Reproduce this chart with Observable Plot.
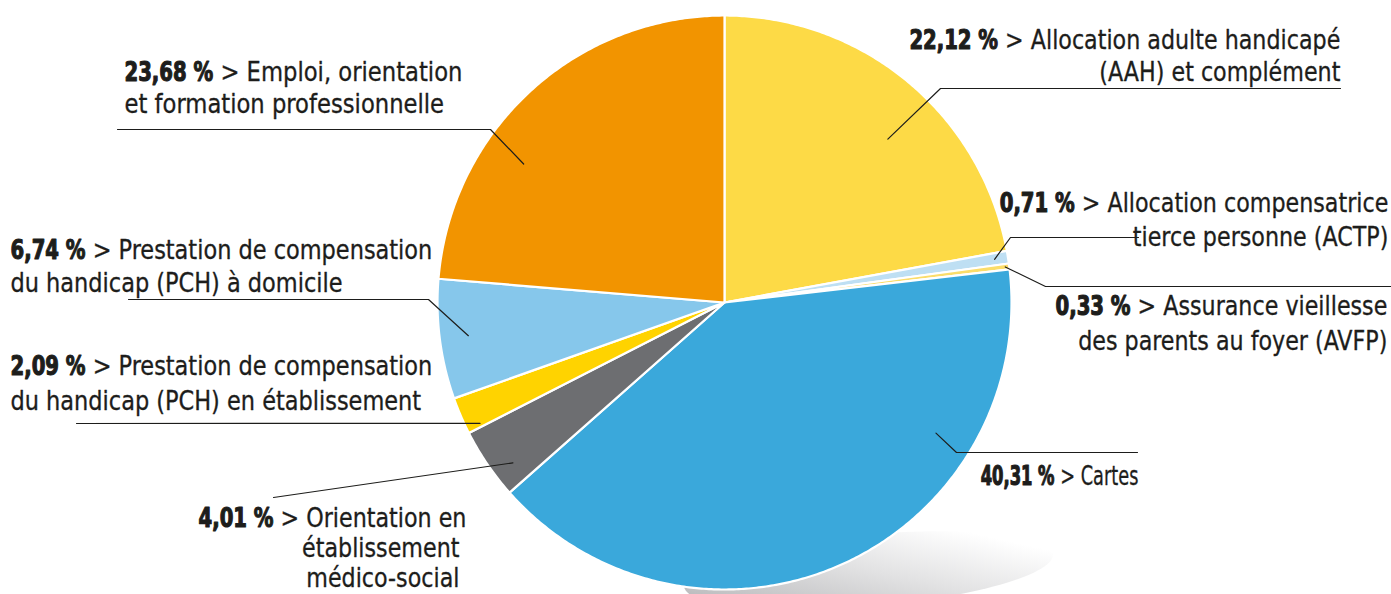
<!DOCTYPE html>
<html><head><meta charset="utf-8">
<script src="https://cdn.jsdelivr.net/npm/d3@7"></script>
<script src="https://cdn.jsdelivr.net/npm/@observablehq/plot@0.6"></script>
<style>
html,body{margin:0;padding:0;background:#fff;}
#chart svg{display:block;}
</style>
</head><body><div id="chart"></div>
<script>
// ---------- DATA ----------
const categories = [
  "Allocation adulte handicapé (AAH) et complément",
  "Allocation compensatrice tierce personne (ACTP)",
  "Assurance vieillesse des parents au foyer (AVFP)",
  "Cartes",
  "Orientation en établissement médico-social",
  "Prestation de compensation du handicap (PCH) en établissement",
  "Prestation de compensation du handicap (PCH) à domicile",
  "Emploi, orientation et formation professionnelle"
];
const shares = [22.12, 0.71, 0.33, 40.31, 4.01, 2.09, 6.74, 23.68];
const shareLabels = ["22,12 %", "0,71 %", "0,33 %", "40,31 %", "4,01 %", "2,09 %", "6,74 %", "23,68 %"];
const labelLines = [
  ["> Allocation adulte handicapé", "(AAH) et complément"],
  ["> Allocation compensatrice", "tierce personne (ACTP)"],
  ["> Assurance vieillesse", "des parents au foyer (AVFP)"],
  ["> Cartes"],
  ["> Orientation en", "établissement", "médico-social"],
  ["> Prestation de compensation", "du handicap (PCH) en établissement"],
  ["> Prestation de compensation", "du handicap (PCH) à domicile"],
  ["> Emploi, orientation", "et formation professionnelle"]
];
const sliceColors = ["#FDDA46", "#BEDFF3", "#FBDD6A", "#3AA8DB", "#6D6E71", "#FFD300", "#86C7EB", "#F29400"];

// ---------- LAYOUT ----------
const W = 1391, H = 594;
const CX = 724, CY = 302, R = 287;
const FONT = "'DejaVu Sans Condensed', 'DejaVu Sans', sans-serif";
const FS = 26;
// label blocks: align, anchor x (first line / following lines), first-line centre y, line height, scales
const labelLayout = [
  {align: "end",   x: 1340, x2: 1340, y: 40,  lh: 32, fs: FS, sb: 0.84, sr: 0.95},
  {align: "end",   x: 1388, x2: 1388, y: 203, lh: 34, fs: FS, sb: 0.84, sr: 0.95},
  {align: "end",   x: 1387, x2: 1387, y: 306, lh: 35, fs: FS, sb: 0.84, sr: 0.95},
  {align: "end",   x: 1138, x2: 1138, y: 476, lh: 32, fs: FS, sb: 0.70, sr: 0.76},
  {align: "end",   x: 466,  x2: 459,  y: 518, lh: 30, fs: FS, sb: 0.84, sr: 0.95},
  {align: "start", x: 10,   x2: 10,   y: 366, lh: 35, fs: FS, sb: 0.84, sr: 0.96},
  {align: "start", x: 10,   x2: 10,   y: 250, lh: 33, fs: FS, sb: 0.84, sr: 0.96},
  {align: "start", x: 124,  x2: 124,  y: 72,  lh: 32, fs: FS, sb: 0.84, sr: 0.97}
];
// leader lines: position inside slice (t along angle, k along radius) then label-side points
const leaderLayout = [
  {t: 0.565, k: 0.805, pts: [[940, 88], [1340, 88]]},
  {t: 0.5,   k: 0.953, pts: [[1010, 237], [1138, 237]]},
  {t: 0.5,   k: 0.986, pts: [[1045, 286], [1390, 286]]},
  {t: 0.264, k: 0.866, pts: [[956, 452], [1137, 452]]},
  {t: 0.3,   k: 0.925, pts: [[273, 497]]},
  {t: 0.1,   k: 0.95,  pts: [[76, 423]]},
  {t: 0.5,   k: 0.90,  pts: [[428, 299], [128, 299]]},
  {t: 0.35,  k: 0.85,  pts: [[490, 129], [117, 129]]}
];

// ---------- BUILD ----------
const data = categories.map((c, i) => ({name: c, share: shares[i]}));
const arcs = d3.pie().sort(null).value(d => d.share)(data);
const polar = (a, r) => [CX + r * Math.sin(a), CY - r * Math.cos(a)];

const slicePts = [];
arcs.forEach((a, i) => {
  const n = Math.max(2, Math.ceil((a.endAngle - a.startAngle) / (Math.PI / 360)));
  slicePts.push({name: categories[i], x: CX, y: CY});
  for (let j = 0; j <= n; j++) {
    const ang = a.startAngle + (a.endAngle - a.startAngle) * j / n;
    const [x, y] = polar(ang, R);
    slicePts.push({name: categories[i], x, y});
  }
});

const leaderPts = [];
arcs.forEach((a, i) => {
  const L = leaderLayout[i];
  const ang = a.startAngle + (a.endAngle - a.startAngle) * L.t;
  const [x0, y0] = polar(ang, R * L.k);
  leaderPts.push({id: i, x: x0, y: y0});
  L.pts.forEach(([x, y]) => leaderPts.push({id: i, x, y}));
});

// text measurement
const ctx = document.createElement("canvas").getContext("2d");
const measure = (txt, weight, fs) => { ctx.font = `${weight} ${fs}px ${FONT}`; return ctx.measureText(txt).width; };

const boldTexts = [], regTexts = [];
labelLayout.forEach((L, i) => {
  labelLines[i].forEach((line, j) => {
    const y = L.y + j * L.lh;
    if (j === 0) {
      const bw = measure(shareLabels[i], "bold", L.fs) * L.sb;
      const sw = measure(" ", "normal", L.fs) * L.sr;
      const rw = measure(line, "normal", L.fs) * L.sr;
      const start = L.align === "end" ? L.x - (bw + sw + rw) : L.x;
      boldTexts.push({x: start, y, text: shareLabels[i], fs: L.fs, s: L.sb});
      regTexts.push({x: start + bw + sw, y, text: line, fs: L.fs, s: L.sr});
    } else {
      const rw = measure(line, "normal", L.fs) * L.sr;
      const start = L.align === "end" ? L.x2 - rw : L.x2;
      regTexts.push({x: start, y, text: line, fs: L.fs, s: L.sr});
    }
  });
});

// shadow (decorative) ellipse under the pie
const shadowPts = d3.range(0, 361, 3).map(d => {
  const a = d * Math.PI / 180, rot = -5 * Math.PI / 180;
  const ex = 185 * Math.cos(a), ey = 36 * Math.sin(a);
  return {x: 868 + ex * Math.cos(rot) - ey * Math.sin(rot), y: 570 + ex * Math.sin(rot) + ey * Math.cos(rot)};
});

const chart = Plot.plot({
  width: W, height: H, margin: 0,
  x: {domain: [0, W], range: [0, W], axis: null},
  y: {domain: [0, H], range: [0, H], axis: null},
  color: {domain: categories, range: sliceColors},
  style: {background: "#fff", fontFamily: FONT},
  marks: [
    Plot.line(shadowPts, {x: "x", y: "y", curve: "linear-closed", fill: "url(#shadowGrad)", stroke: "none"}),
    Plot.line(slicePts, {x: "x", y: "y", z: "name", fill: "name", stroke: "#fff", strokeWidth: 2.2, strokeLinejoin: "round", curve: "linear-closed"}),
    Plot.line(leaderPts, {x: "x", y: "y", z: "id", stroke: "#1d1d1b", strokeWidth: 1.2}),
    Plot.text(boldTexts, {x: "x", y: "y", text: "text", fontSize: d => d.fs, textAnchor: "start", fontWeight: "bold", fill: "#1d1d1b", stroke: "#1d1d1b", strokeWidth: 1.1}),
    Plot.text(regTexts, {x: "x", y: "y", text: "text", fontSize: d => d.fs, textAnchor: "start", fill: "#1d1d1b", stroke: "#1d1d1b", strokeWidth: 0.3})
  ]
});

// condense glyphs horizontally (narrow typeface look)
const textGroups = d3.select(chart).selectAll("g[aria-label='text']").nodes();
[boldTexts, regTexts].forEach((arr, gi) => {
  if (!textGroups[gi]) return;
  d3.select(textGroups[gi]).selectAll("text").each(function(_, i) {
    const s = arr[i] ? arr[i].s : 1;
    const t = this.getAttribute("transform");
    if (t && t.includes("translate")) {
      this.setAttribute("transform", t + ` scale(${s},1)`);
    } else {
      const x = +this.getAttribute("x") || 0, y = +this.getAttribute("y") || 0;
      this.removeAttribute("x"); this.removeAttribute("y");
      this.setAttribute("transform", `translate(${x},${y}) scale(${s},1)`);
    }
  });
});

const defs = d3.select(chart).insert("defs", ":first-child");
const g = defs.append("linearGradient").attr("id", "shadowGrad").attr("x1", "0.1").attr("y1", "1").attr("x2", "0.95").attr("y2", "0.2");
g.append("stop").attr("offset", "0%").attr("stop-color", "#b9b9bb");
g.append("stop").attr("offset", "55%").attr("stop-color", "#e2e2e3");
g.append("stop").attr("offset", "100%").attr("stop-color", "#ffffff");

document.getElementById("chart").appendChild(chart);
</script>
</body></html>
